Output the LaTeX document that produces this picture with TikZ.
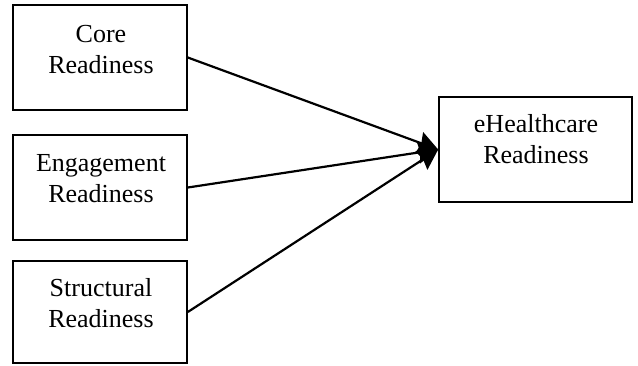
\documentclass[tikz,border=0pt]{standalone}
\usepackage{fontspec}
\setmainfont{Liberation Serif}
\usetikzlibrary{arrows.meta}
\begin{document}
\begin{tikzpicture}[x=1pt,y=-1pt,
  box/.style={draw,line width=1.6pt,minimum width=174pt,minimum height=105pt,inner sep=0pt},
  lbl/.style={align=center,inner sep=0pt,anchor=base,font=\fontsize{26}{31.5}\selectfont},
  conn/.style={line width=2.2pt,-{Stealth[length=20pt,width=22pt,inset=2pt]}}]
\useasboundingbox (0,0) rectangle (638,365);
\node[box] (core) at (100,57.5) {};
\node[box] (eng) at (100,187.5) {};
\node[box,minimum height=102pt] (str) at (100,312) {};
\node[box,minimum width=193pt,minimum height=105pt] (eh) at (535.5,149.5) {};
\node[lbl] (coret) at (101,73.5) {Core\\Readiness};
\node[lbl] (engt) at (101,202.5) {Engagement\\Readiness};
\node[lbl] (strt) at (101,327.5) {Structural\\Readiness};
\node[lbl] (eht) at (536,163.5) {eHealthcare\\Readiness};
\draw[conn] (core.east) -- (eh.west);
\draw[conn] (eng.east) -- (eh.west);
\draw[conn] (str.east) -- (eh.west);
\end{tikzpicture}
\end{document}
